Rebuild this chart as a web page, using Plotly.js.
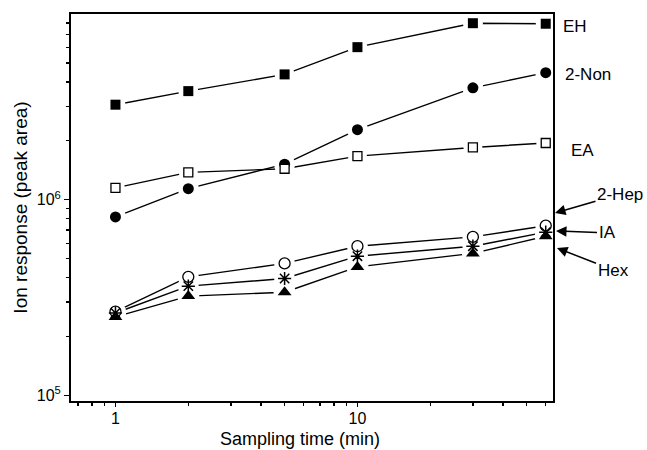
<!DOCTYPE html>
<html>
<head>
<meta charset="utf-8">
<script src="https://cdn.plot.ly/plotly-3.0.1.min.js"></script>
<style>html,body{margin:0;padding:0;background:#fff;}#chart{width:647px;height:450px;}</style>
</head>
<body>
<div id="chart"></div>
<script>
var times = [1, 2, 5, 10, 30, 60];
var seriesNames = ["EH", "2-Non", "EA", "2-Hep", "IA", "Hex"];
var valEH   = [3.06e6, 3.59e6, 4.37e6, 6.02e6, 7.98e6, 7.93e6];
var valNon  = [8.17e5, 1.14e6, 1.52e6, 2.28e6, 3.73e6, 4.46e6];
var valEA   = [1.15e6, 1.38e6, 1.44e6, 1.67e6, 1.85e6, 1.95e6];
var valHep  = [2.68e5, 4.04e5, 4.73e5, 5.79e5, 6.46e5, 7.37e5];
var valIA   = [2.64e5, 3.62e5, 3.96e5, 5.15e5, 5.79e5, 6.83e5];
var valHex  = [2.52e5, 3.22e5, 3.37e5, 4.54e5, 5.32e5, 6.51e5];
var yTickVals = [1e5, 1e6];
var yTickText = ["10<sup>5</sup>", "10<sup>6</sup>"];
var xTickVals = [1, 10];
var xTickText = ["1", "10"];
var xTitle = "Sampling time (min)";
var yTitle = "Ion response (peak area)";

var allVals = [valEH, valNon, valEA, valHep, valIA, valHex];
var styles = [
  {symbol: "square", size: 10, color: "#000", lc: "#000", lw: 0},
  {symbol: "circle", size: 11, color: "#000", lc: "#000", lw: 0},
  {symbol: "square", size: 9, color: "#fff", lc: "#000", lw: 1.3},
  {symbol: "circle", size: 11, color: "#fff", lc: "#000", lw: 1.3},
  {symbol: "asterisk-open", size: 11, color: "#000", lc: "#000", lw: 1.5},
  {symbol: "triangle-up", size: 12, color: "#000", lc: "#000", lw: 0}
];

var traces = [];
allVals.forEach(function (v, i) {
  traces.push({x: times, y: v, mode: "lines", line: {color: "#000", width: 1.4}, hoverinfo: "skip", showlegend: false});
});
allVals.forEach(function (v, i) {
  traces.push({x: times, y: v, mode: "markers", marker: {symbol: "circle", size: styles[i].size + 10, color: "#fff"}, hoverinfo: "skip", showlegend: false});
});
allVals.forEach(function (v, i) {
  var s = styles[i];
  traces.push({x: times, y: v, name: seriesNames[i], mode: "markers",
    marker: {symbol: s.symbol, size: s.size, color: s.color, line: {color: s.lc, width: s.lw}}, showlegend: false});
});

var W = 647, H = 450, L = 71, R = 553, T = 14, B = 401;
function px(x) { return (x - L) / (R - L); }
function py(y) { return (B - y) / (B - T); }
var fam = "Liberation Sans, Arial, sans-serif";
var font = {family: fam, size: 17, color: "#000"};
var tickFont = {family: fam, size: 16, color: "#000"};
var titleFont = {family: fam, size: 18, color: "#000"};

// label centre positions [x, y] and optional arrow head [x, y]
var labelPos = [[575, 26], [588, 74], [582, 150], [620, 194], [607, 233], [613, 270]];
var arrowHeads = [null, null, null, [555, 213], [556, 231], [557, 248]];
var annotations = labelPos.map(function (p, i) {
  var h = arrowHeads[i];
  if (!h) {
    return {xref: "paper", yref: "paper", x: px(p[0]), y: py(p[1]), text: seriesNames[i], showarrow: false,
      xanchor: "center", yanchor: "middle", font: font};
  }
  return {xref: "paper", yref: "paper", x: px(h[0]), y: py(h[1]), ax: p[0] - h[0], ay: p[1] - h[1],
    text: seriesNames[i], showarrow: true, arrowhead: 2, arrowsize: 1.4, arrowwidth: 1.5, arrowcolor: "#000",
    standoff: 0, startstandoff: 0, font: font};
});
annotations.push({xref: "paper", yref: "paper", x: px(300), y: py(450), text: xTitle, showarrow: false,
  xanchor: "center", yanchor: "bottom", borderpad: 0, font: titleFont});

var minorX = [0.7, 0.8, 0.9, 2, 3, 4, 5, 6, 7, 8, 9, 20, 30, 40, 50, 60];
var minorY = [2e5, 3e5, 4e5, 5e5, 6e5, 7e5, 8e5, 9e5, 2e6, 3e6, 4e6, 5e6, 6e6, 7e6, 8e6, 9e6];

var layout = {
  width: W, height: H,
  margin: {l: L, r: W - R, t: T, b: H - B, pad: 0},
  paper_bgcolor: "#fff", plot_bgcolor: "#fff",
  font: font,
  xaxis: {type: "log", range: [Math.log10(0.655), Math.log10(64.3)], showgrid: false, zeroline: false,
    showline: true, linecolor: "#000", linewidth: 2, mirror: true,
    ticks: "outside", ticklen: 4, tickwidth: 1.3, tickcolor: "#000", ticklabelstandoff: -2,
    tickmode: "array", tickvals: xTickVals, ticktext: xTickText, tickfont: tickFont,
    minor: {tickmode: "array", tickvals: minorX, ticks: "outside", ticklen: 3, tickwidth: 1.3, tickcolor: "#000", showgrid: false}},
  yaxis: {type: "log", range: [4.972, 6.949], showgrid: false, zeroline: false,
    showline: true, linecolor: "#000", linewidth: 2, mirror: true,
    ticks: "outside", ticklen: 5, tickwidth: 1.3, tickcolor: "#000",
    tickmode: "array", tickvals: yTickVals, ticktext: yTickText, tickfont: tickFont,
    minor: {tickmode: "array", tickvals: minorY, ticks: "outside", ticklen: 3, tickwidth: 1.3, tickcolor: "#000", showgrid: false},
    title: {text: yTitle, font: {family: fam, size: 19, color: "#000"}, standoff: 4}},
  annotations: annotations,
  showlegend: false
};

Plotly.newPlot("chart", traces, layout, {staticPlot: true, displayModeBar: false});
</script>
</body>
</html>
